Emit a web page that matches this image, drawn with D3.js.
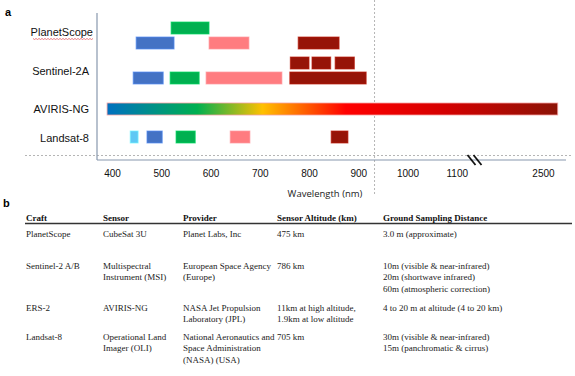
<!DOCTYPE html>
<html><head><meta charset="utf-8">
<script src="https://cdn.jsdelivr.net/npm/d3@7"></script>
<style>html,body{margin:0;padding:0;background:#fff;}svg{display:block;}</style>
</head><body>
<script>
// ---- data ----
const craftLabels = ["PlanetScope", "Sentinel-2A", "AVIRIS-NG", "Landsat-8"];
const laneIds = ["PS-a", "PS-b", "S2-a", "S2-b", "AV", "L8"];
const bandLane = ["PS-a","PS-b","PS-b","PS-b", "S2-a","S2-a","S2-a", "S2-b","S2-b","S2-b","S2-b", "L8","L8","L8","L8","L8"];
const bandFrom = [520, 449, 597, 778, 762, 806, 853, 443, 518, 591, 761, 437, 471, 530, 640, 845];
const bandTo   = [597, 526, 678, 861, 800, 844, 892, 504, 577, 745, 916, 453, 502, 569, 680, 879];
const bandKind = ["green","blue","red","nir", "nir","nir","nir", "blue","green","red","nir", "coastal","blue","green","red","nir"];
const avirisRange = [390, 2530];
const tickValues = [400, 500, 600, 700, 800, 900, 1000, 1100, 2500];
const dividerNm = 933;
const breakNm = 1140;

const tableHeader = ["Craft", "Sensor", "Provider", "Sensor Altitude (km)", "Ground Sampling Distance"];
const tableCraft = [["PlanetScope"], ["Sentinel-2 A/B"], ["ERS-2"], ["Landsat-8"]];
const tableSensor = [["CubeSat 3U"], ["Multispectral", "Instrument (MSI)"], ["AVIRIS-NG"], ["Operational Land", "Imager (OLI)"]];
const tableProvider = [["Planet Labs, Inc"], ["European Space Agency", "(Europe)"], ["NASA Jet Propulsion", "Laboratory (JPL)"], ["National Aeronautics and", "Space Administration", "(NASA) (USA)"]];
const tableAltitude = [["475 km"], ["786 km"], ["11km at high altitude,", "1.9km at low altitude"], ["705 km"]];
const tableGSD = [["3.0 m (approximate)"], ["10m (visible & near-infrared)", "20m (shortwave infrared)", "60m (atmospheric correction)"], ["4 to 20 m at altitude (4 to 20 km)"], ["30m (visible & near-infrared)", "15m (panchromatic & cirrus)"]];

// ---- layout ----
const W = 575, H = 376;
const svg = d3.select("body").append("svg").attr("width", W).attr("height", H);

const kindColor = d3.scaleOrdinal()
  .domain(["coastal", "blue", "green", "red", "nir"])
  .range(["#5ec8f4", "#4472c4", "#00b050", "#ff7c80", "#961408"]);

// broken wavelength axis
const x = d3.scaleLinear()
  .domain([400, breakNm, 2366, 2600])
  .range([112, 476.5, 477, 592.2]);

const laneY = d3.scaleOrdinal().domain(laneIds).range([22, 37, 57, 72, 103, 131]);
const labelY = d3.scaleOrdinal().domain(craftLabels).range([36, 75, 113, 141.5]);
const barH = 12;

// panel letters
svg.append("text").attr("x", 5).attr("y", 16).text("a")
  .attr("font-family", "Liberation Sans, Arial, sans-serif").attr("font-weight", "bold").attr("font-size", 11);
svg.append("text").attr("x", 3).attr("y", 207).text("b")
  .attr("font-family", "Liberation Sans, Arial, sans-serif").attr("font-weight", "bold").attr("font-size", 11);

// dotted guides
svg.append("line").attr("x1", x(dividerNm)).attr("x2", x(dividerNm)).attr("y1", 0).attr("y2", 196)
  .attr("stroke", "#b5b5b5").attr("stroke-width", 1).attr("stroke-dasharray", "2,2");
svg.append("line").attr("x1", 25).attr("x2", 573).attr("y1", 155.5).attr("y2", 155.5)
  .attr("stroke", "#b5b5b5").attr("stroke-width", 1).attr("stroke-dasharray", "2,2");

// axes lines
svg.append("line").attr("x1", 97).attr("x2", 97).attr("y1", 13).attr("y2", 160)
  .attr("stroke", "#8898ae").attr("stroke-width", 1.2);
svg.append("line").attr("x1", 97).attr("x2", 566).attr("y1", 160).attr("y2", 160)
  .attr("stroke", "#8898ae").attr("stroke-width", 1.2);

// tick labels via axis
const axis = d3.axisBottom(x).tickValues(tickValues).tickSize(0).tickPadding(0).tickFormat(d3.format("d"));
const gAxis = svg.append("g").attr("transform", "translate(0,168)").call(axis);
gAxis.select(".domain").remove();
gAxis.selectAll("text").attr("font-family", "Liberation Sans, Arial, sans-serif")
  .attr("font-size", 10).attr("fill", "#111").attr("dy", "0.71em").attr("y", 2);

// break marks
const bx = x(breakNm);
[-5, 1].forEach(o => {
  svg.append("line").attr("x1", bx + o - 4).attr("y1", 155).attr("x2", bx + o + 4).attr("y2", 165)
    .attr("stroke", "#111").attr("stroke-width", 1.8);
});

// axis title
svg.append("text").attr("x", 325).attr("y", 197).attr("text-anchor", "middle")
  .attr("font-family", "Open Sans, sans-serif").attr("font-size", 9.5).attr("fill", "#222")
  .text("Wavelength (nm)");

// AVIRIS gradient
const defs = svg.append("defs");
const grad = defs.append("linearGradient").attr("id", "avg")
  .attr("gradientUnits", "userSpaceOnUse")
  .attr("x1", x(avirisRange[0])).attr("x2", x(avirisRange[1])).attr("y1", 0).attr("y2", 0);
[[0, "#0070c0"], [0.2, "#00b050"], [0.345, "#ffc000"], [0.53, "#ff0000"], [0.75, "#d40000"], [1, "#8c1306"]]
  .forEach(([o, c]) => grad.append("stop").attr("offset", o).attr("stop-color", c));

svg.append("rect")
  .attr("x", x(avirisRange[0])).attr("y", laneY("AV"))
  .attr("width", x(avirisRange[1]) - x(avirisRange[0])).attr("height", barH)
  .attr("fill", "url(#avg)").attr("stroke", "#f4a0a0").attr("stroke-width", 0.8);

// bands
const bands = bandFrom.map((f, i) => ({ from: f, to: bandTo[i], lane: bandLane[i], kind: bandKind[i] }));
svg.append("g").selectAll("rect").data(bands).join("rect")
  .attr("x", d => x(d.from)).attr("y", d => laneY(d.lane))
  .attr("width", d => x(d.to) - x(d.from)).attr("height", barH)
  .attr("fill", d => kindColor(d.kind))
  .attr("stroke", d => d3.color(kindColor(d.kind)).brighter(0.6))
  .attr("stroke-opacity", 0.7).attr("stroke-width", 1);

// row labels
svg.append("g").selectAll("text").data(craftLabels).join("text")
  .attr("x", (d, i) => i === 0 ? 93 : 89).attr("y", d => labelY(d))
  .attr("text-anchor", "end").attr("font-family", "Liberation Sans, Arial, sans-serif")
  .attr("font-size", 11).attr("fill", "#111").text(d => d);

// spellcheck squiggle under PlanetScope
(function () {
  const x0 = 33, x1 = 93, yy = 38.5;
  let p = `M${x0},${yy}`;
  for (let xx = x0 + 1.5, k = 0; xx <= x1; xx += 1.5, k++) p += ` L${xx},${yy + (k % 2 ? 0 : 1)}`;
  svg.append("path").attr("d", p).attr("fill", "none").attr("stroke", "#e0484f").attr("stroke-width", 0.7);
})();

// ---- table ----
const colX = [26, 103, 183, 277, 383];
const rowY = [236.5, 269, 311, 340];
const lineH = 11.4;
const tFont = "Liberation Serif, Times New Roman, serif";

svg.append("g").selectAll("text").data(tableHeader).join("text")
  .attr("x", (d, i) => colX[i]).attr("y", 221)
  .attr("font-family", tFont).attr("font-weight", "bold").attr("font-size", 9)
  .attr("fill", "#111").text(d => d);

svg.append("line").attr("x1", 25).attr("x2", 572).attr("y1", 223.5).attr("y2", 223.5)
  .attr("stroke", "#333").attr("stroke-width", 1.3);

const cols = [tableCraft, tableSensor, tableProvider, tableAltitude, tableGSD];
cols.forEach((col, ci) => {
  col.forEach((lines, ri) => {
    lines.forEach((ln, li) => {
      svg.append("text").attr("x", colX[ci]).attr("y", rowY[ri] + li * lineH)
        .attr("font-family", tFont).attr("font-size", 9).attr("fill", "#222").text(ln);
    });
  });
});
</script>
</body></html>
